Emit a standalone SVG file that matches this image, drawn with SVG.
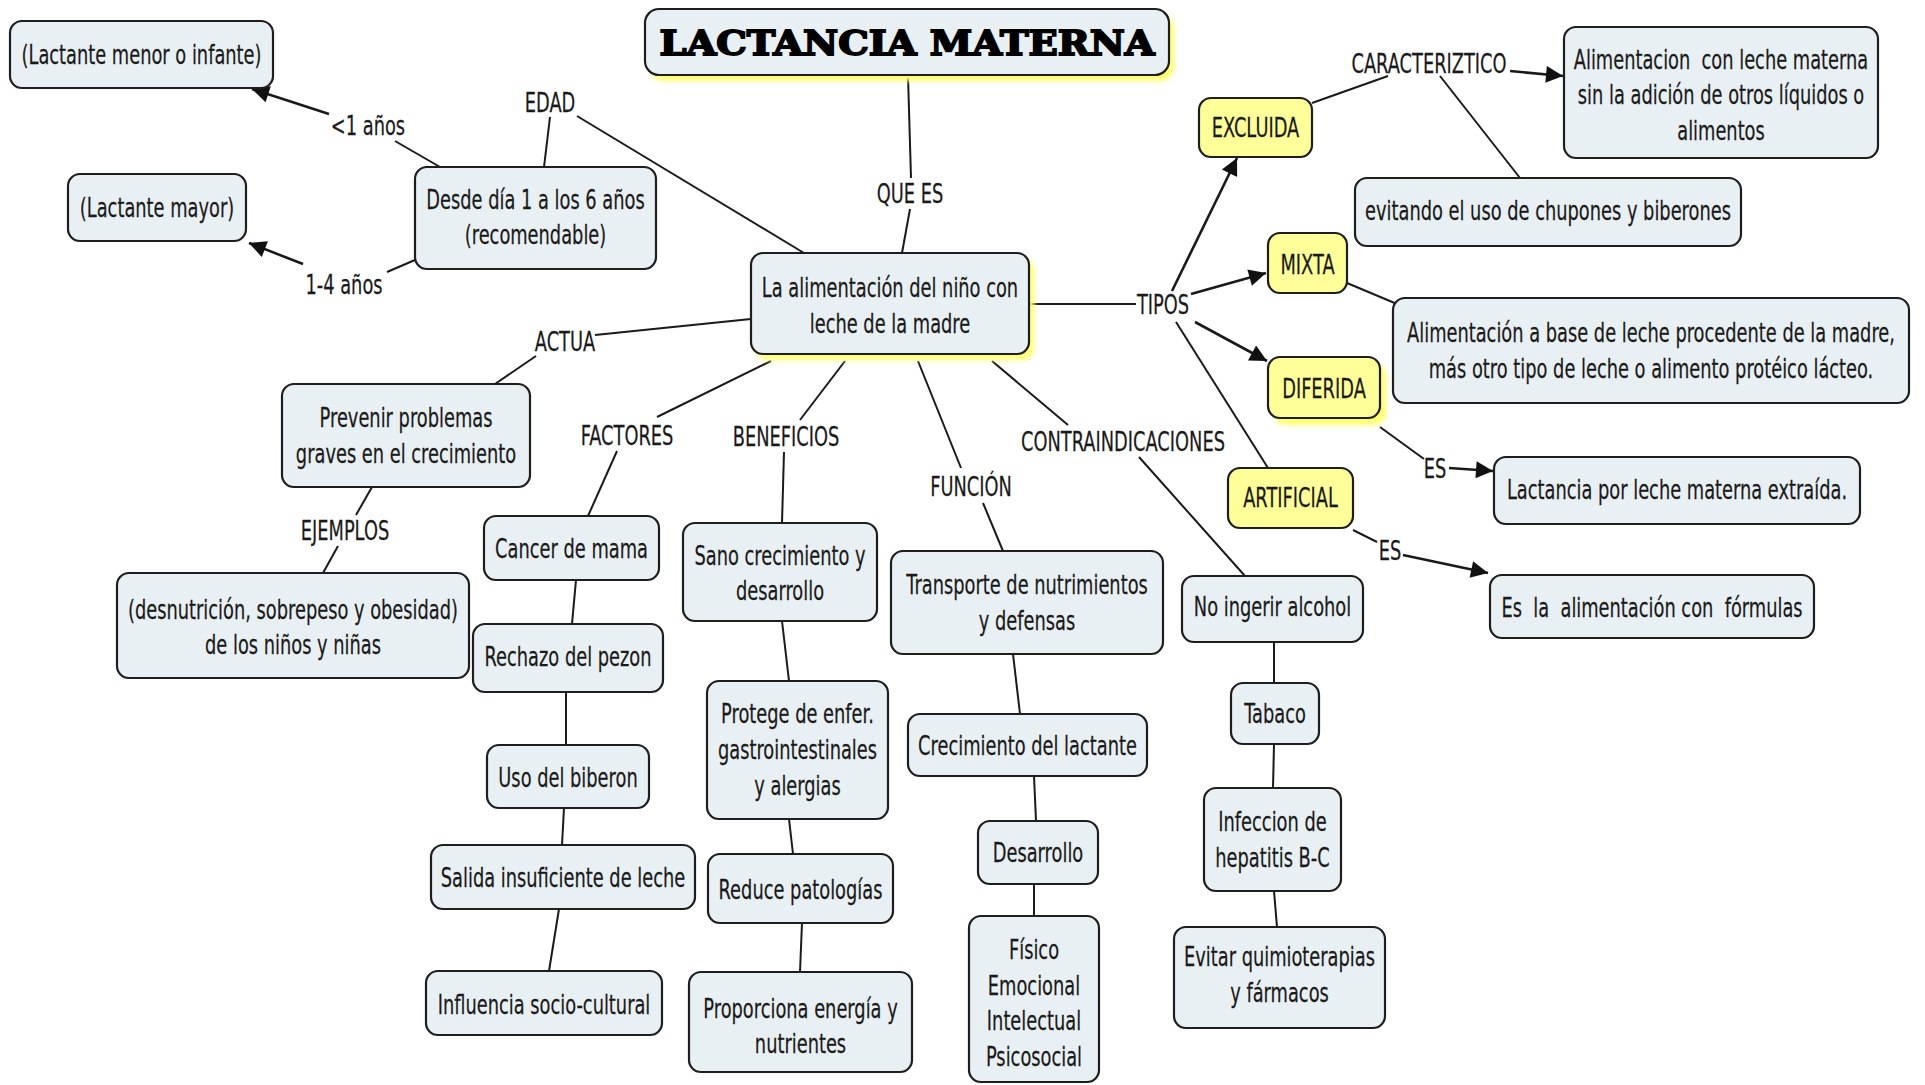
<svg xmlns="http://www.w3.org/2000/svg" width="1925" height="1085" viewBox="0 0 1925 1085">
<defs>
<style>
.node rect.b{fill:#e9f0f3;stroke:#1e1e1e;stroke-width:2.2}
.yel rect.b{fill:#ffff99}
.shadow{fill:#ffff70;filter:url(#blur)}
text{font-family:"DejaVu Sans","Verdana",sans-serif;font-size:27px;fill:#1a1a1a;text-anchor:middle;stroke:#1a1a1a;stroke-width:0.25}
.title{font-family:"DejaVu Serif","Liberation Serif",serif;font-weight:bold;font-size:34px;fill:#000;stroke:#000;stroke-width:1.8}
.conn line{stroke:#1a1a1a;stroke-width:2;fill:none}
.conn line.a{stroke-width:2.6;marker-end:url(#arr)}
</style>
<filter id="blur" x="-10%" y="-20%" width="130%" height="150%"><feGaussianBlur stdDeviation="2.5"/></filter>
<marker id="arr" viewBox="0 0 10 10" refX="10" refY="5" markerWidth="22" markerHeight="17" markerUnits="userSpaceOnUse" orient="auto"><path d="M0,0 L10,5 L0,10 z" fill="#111"/></marker>
</defs>
<rect width="1925" height="1085" fill="#ffffff"/>

<g id="connectors" class="conn">
<line x1="908" y1="76" x2="911" y2="178"/>
<line x1="910" y1="209" x2="902" y2="253"/>
<line x1="577" y1="116" x2="804" y2="253"/>
<line x1="550" y1="117" x2="544" y2="167"/>
<line x1="440" y1="167" x2="395" y2="141"/>
<line class="a" x1="329" y1="114" x2="252" y2="89"/>
<line x1="415" y1="260" x2="387" y2="272"/>
<line class="a" x1="303" y1="264" x2="249" y2="243"/>
<line x1="751" y1="319" x2="595" y2="335"/>
<line x1="536" y1="356" x2="495" y2="384"/>
<line x1="372" y1="487" x2="356" y2="515"/>
<line x1="338" y1="546" x2="323" y2="573"/>
<line x1="771" y1="361" x2="657" y2="417"/>
<line x1="617" y1="451" x2="588" y2="516"/>
<line x1="576" y1="580" x2="572" y2="624"/>
<line x1="566" y1="692" x2="566" y2="745"/>
<line x1="564" y1="808" x2="562" y2="845"/>
<line x1="559" y1="909" x2="549" y2="971"/>
<line x1="845" y1="361" x2="800" y2="420"/>
<line x1="784" y1="452" x2="782" y2="523"/>
<line x1="782" y1="621" x2="789" y2="681"/>
<line x1="789" y1="819" x2="793" y2="854"/>
<line x1="802" y1="923" x2="800" y2="972"/>
<line x1="918" y1="361" x2="961" y2="468"/>
<line x1="983" y1="503" x2="1003" y2="551"/>
<line x1="1013" y1="654" x2="1020" y2="714"/>
<line x1="1034" y1="776" x2="1036" y2="821"/>
<line x1="1034" y1="884" x2="1034" y2="916"/>
<line x1="992" y1="361" x2="1068" y2="425"/>
<line x1="1139" y1="457" x2="1245" y2="576"/>
<line x1="1274" y1="642" x2="1274" y2="683"/>
<line x1="1274" y1="744" x2="1273" y2="788"/>
<line x1="1274" y1="891" x2="1277" y2="927"/>
<line x1="1029" y1="304" x2="1136" y2="304"/>
<line class="a" x1="1172" y1="291" x2="1237" y2="158"/>
<line class="a" x1="1191" y1="294" x2="1266" y2="273"/>
<line class="a" x1="1195" y1="322" x2="1267" y2="361"/>
<line x1="1176" y1="322" x2="1268" y2="468"/>
<line x1="1312" y1="103" x2="1388" y2="76"/>
<line class="a" x1="1510" y1="71" x2="1563" y2="76"/>
<line x1="1440" y1="76" x2="1520" y2="178"/>
<line x1="1347" y1="283" x2="1397" y2="304"/>
<line x1="1380" y1="427" x2="1424" y2="459"/>
<line class="a" x1="1449" y1="468" x2="1493" y2="471"/>
<line x1="1353" y1="530" x2="1377" y2="542"/>
<line class="a" x1="1403" y1="555" x2="1488" y2="573"/>
</g>

<g id="labels">
<text transform="translate(550 0) scale(0.66 1)" x="0" y="112">EDAD</text>
<text transform="translate(368 0) scale(0.66 1)" x="0" y="135">&lt;1 años</text>
<text transform="translate(344 0) scale(0.66 1)" x="0" y="294">1-4 años</text>
<text transform="translate(910 0) scale(0.66 1)" x="0" y="203">QUE ES</text>
<text transform="translate(565 0) scale(0.66 1)" x="0" y="351">ACTUA</text>
<text transform="translate(345 0) scale(0.66 1)" x="0" y="540">EJEMPLOS</text>
<text transform="translate(627 0) scale(0.66 1)" x="0" y="445">FACTORES</text>
<text transform="translate(786 0) scale(0.66 1)" x="0" y="446">BENEFICIOS</text>
<text transform="translate(971 0) scale(0.66 1)" x="0" y="496">FUNCIÓN</text>
<text transform="translate(1123 0) scale(0.66 1)" x="0" y="451">CONTRAINDICACIONES</text>
<text transform="translate(1163 0) scale(0.66 1)" x="0" y="314">TIPOS</text>
<text transform="translate(1429 0) scale(0.66 1)" x="0" y="73">CARACTERIZTICO</text>
<text transform="translate(1435 0) scale(0.66 1)" x="0" y="478">ES</text>
<text transform="translate(1390 0) scale(0.66 1)" x="0" y="560">ES</text>
</g>

<g id="n-title" class="node">
<rect class="shadow" x="650" y="15" width="524" height="66" rx="14"/>
<rect class="b" x="645" y="9" width="524" height="66" rx="14"/>
<text class="title" x="907" y="55" textLength="495" lengthAdjust="spacingAndGlyphs">LACTANCIA MATERNA</text>
</g>
<g id="n-menor" class="node"><rect class="b" x="10" y="21" width="263" height="67" rx="12"/>
<text transform="translate(141.5 0) scale(0.66 1)" x="0" y="64">(Lactante menor o infante)</text></g>
<g id="n-mayor" class="node"><rect class="b" x="68" y="174" width="178" height="67" rx="12"/>
<text transform="translate(157 0) scale(0.66 1)" x="0" y="217">(Lactante mayor)</text></g>
<g id="n-desde" class="node"><rect class="b" x="415" y="167" width="241" height="102" rx="12"/>
<text transform="translate(535.5 0) scale(0.66 1)"><tspan x="0" y="209">Desde día 1 a los 6 años</tspan><tspan x="0" y="244.5">(recomendable)</tspan></text></g>
<g id="n-main" class="node">
<rect class="shadow" x="756" y="259" width="278" height="101" rx="12"/>
<rect class="b" x="751" y="253" width="278" height="101" rx="12"/>
<text transform="translate(890 0) scale(0.66 1)"><tspan x="0" y="297">La alimentación del niño con</tspan><tspan x="0" y="333">leche de la madre</tspan></text></g>
<g id="n-prevenir" class="node"><rect class="b" x="282" y="384" width="248" height="103" rx="12"/>
<text transform="translate(406 0) scale(0.66 1)"><tspan x="0" y="427">Prevenir problemas</tspan><tspan x="0" y="463">graves en el crecimiento</tspan></text></g>
<g id="n-desnut" class="node"><rect class="b" x="117" y="573" width="352" height="105" rx="12"/>
<text transform="translate(293 0) scale(0.66 1)"><tspan x="0" y="619">(desnutrición, sobrepeso y obesidad)</tspan><tspan x="0" y="654.5">de los niños y niñas</tspan></text></g>
<g id="n-cancer" class="node"><rect class="b" x="484" y="516" width="175" height="64" rx="12"/>
<text transform="translate(571.5 0) scale(0.66 1)" x="0" y="558">Cancer de mama</text></g>
<g id="n-rechazo" class="node"><rect class="b" x="473" y="624" width="190" height="68" rx="12"/>
<text transform="translate(568 0) scale(0.66 1)" x="0" y="666">Rechazo del pezon</text></g>
<g id="n-uso" class="node"><rect class="b" x="487" y="745" width="162" height="63" rx="12"/>
<text transform="translate(568 0) scale(0.66 1)" x="0" y="787">Uso del biberon</text></g>
<g id="n-salida" class="node"><rect class="b" x="431" y="845" width="264" height="64" rx="12"/>
<text transform="translate(563 0) scale(0.66 1)" x="0" y="887">Salida insuficiente de leche</text></g>
<g id="n-influencia" class="node"><rect class="b" x="426" y="971" width="236" height="64" rx="12"/>
<text transform="translate(544 0) scale(0.66 1)" x="0" y="1014">Influencia socio-cultural</text></g>
<g id="n-sano" class="node"><rect class="b" x="683" y="523" width="194" height="98" rx="12"/>
<text transform="translate(780 0) scale(0.66 1)"><tspan x="0" y="565">Sano crecimiento y</tspan><tspan x="0" y="600.5">desarrollo</tspan></text></g>
<g id="n-protege" class="node"><rect class="b" x="707" y="681" width="181" height="138" rx="12"/>
<text transform="translate(797.5 0) scale(0.66 1)"><tspan x="0" y="723">Protege de enfer.</tspan><tspan x="0" y="759">gastrointestinales</tspan><tspan x="0" y="795.5">y alergias</tspan></text></g>
<g id="n-reduce" class="node"><rect class="b" x="708" y="854" width="185" height="69" rx="12"/>
<text transform="translate(800.5 0) scale(0.66 1)" x="0" y="899">Reduce patologías</text></g>
<g id="n-proporciona" class="node"><rect class="b" x="689" y="972" width="223" height="100" rx="12"/>
<text transform="translate(800.5 0) scale(0.66 1)"><tspan x="0" y="1018">Proporciona energía y</tspan><tspan x="0" y="1053.5">nutrientes</tspan></text></g>
<g id="n-transporte" class="node"><rect class="b" x="891" y="551" width="272" height="103" rx="12"/>
<text transform="translate(1027 0) scale(0.66 1)"><tspan x="0" y="594">Transporte de nutrimientos</tspan><tspan x="0" y="630">y defensas</tspan></text></g>
<g id="n-crecimiento" class="node"><rect class="b" x="908" y="714" width="239" height="62" rx="12"/>
<text transform="translate(1027.5 0) scale(0.66 1)" x="0" y="755">Crecimiento del lactante</text></g>
<g id="n-desarrollo" class="node"><rect class="b" x="978" y="821" width="120" height="63" rx="12"/>
<text transform="translate(1038 0) scale(0.66 1)" x="0" y="862">Desarrollo</text></g>
<g id="n-fisico" class="node"><rect class="b" x="969" y="916" width="130" height="166" rx="12"/>
<text transform="translate(1034 0) scale(0.66 1)"><tspan x="0" y="959">Físico</tspan><tspan x="0" y="995">Emocional</tspan><tspan x="0" y="1030">Intelectual</tspan><tspan x="0" y="1066">Psicosocial</tspan></text></g>
<g id="n-alcohol" class="node"><rect class="b" x="1182" y="576" width="181" height="66" rx="12"/>
<text transform="translate(1272.5 0) scale(0.66 1)" x="0" y="616">No ingerir alcohol</text></g>
<g id="n-tabaco" class="node"><rect class="b" x="1231" y="683" width="88" height="61" rx="12"/>
<text transform="translate(1275 0) scale(0.66 1)" x="0" y="723">Tabaco</text></g>
<g id="n-infeccion" class="node"><rect class="b" x="1204" y="788" width="137" height="103" rx="12"/>
<text transform="translate(1272.5 0) scale(0.66 1)"><tspan x="0" y="831">Infeccion de</tspan><tspan x="0" y="867">hepatitis B-C</tspan></text></g>
<g id="n-evitar" class="node"><rect class="b" x="1174" y="927" width="211" height="101" rx="12"/>
<text transform="translate(1279.5 0) scale(0.66 1)"><tspan x="0" y="966">Evitar quimioterapias</tspan><tspan x="0" y="1002">y fármacos</tspan></text></g>
<g id="n-excluida" class="node yel"><rect class="b" x="1199" y="98" width="113" height="59" rx="12"/>
<text transform="translate(1255.5 0) scale(0.66 1)" x="0" y="137">EXCLUIDA</text></g>
<g id="n-mixta" class="node yel"><rect class="b" x="1268" y="233" width="79" height="60" rx="12"/>
<text transform="translate(1307.5 0) scale(0.66 1)" x="0" y="274">MIXTA</text></g>
<g id="n-diferida" class="node yel">
<rect class="shadow" x="1274" y="364" width="112" height="61" rx="12"/>
<rect class="b" x="1268" y="357" width="112" height="61" rx="12"/>
<text transform="translate(1324 0) scale(0.66 1)" x="0" y="398">DIFERIDA</text></g>
<g id="n-artificial" class="node yel"><rect class="b" x="1228" y="468" width="125" height="60" rx="12"/>
<text transform="translate(1290.5 0) scale(0.66 1)" x="0" y="507">ARTIFICIAL</text></g>
<g id="n-exclusiva-desc" class="node"><rect class="b" x="1564" y="27" width="314" height="131" rx="12"/>
<text transform="translate(1721 0) scale(0.66 1)" xml:space="preserve"><tspan x="0" y="69">Alimentacion  con leche materna</tspan><tspan x="0" y="104.5">sin la adición de otros líquidos o</tspan><tspan x="0" y="140">alimentos</tspan></text></g>
<g id="n-evitando" class="node"><rect class="b" x="1355" y="178" width="386" height="68" rx="12"/>
<text transform="translate(1548 0) scale(0.66 1)" x="0" y="220">evitando el uso de chupones y biberones</text></g>
<g id="n-mixta-desc" class="node"><rect class="b" x="1393" y="298" width="516" height="105" rx="12"/>
<text transform="translate(1651 0) scale(0.66 1)"><tspan x="0" y="342.5">Alimentación a base de leche procedente de la madre,</tspan><tspan x="0" y="378">más otro tipo de leche o alimento protéico lácteo.</tspan></text></g>
<g id="n-extraida" class="node"><rect class="b" x="1494" y="457" width="366" height="67" rx="12"/>
<text transform="translate(1677 0) scale(0.66 1)" x="0" y="499">Lactancia por leche materna extraída.</text></g>
<g id="n-formulas" class="node"><rect class="b" x="1490" y="575" width="324" height="63" rx="12"/>
<text transform="translate(1652 0) scale(0.66 1)" x="0" y="617" xml:space="preserve">Es  la  alimentación con  fórmulas</text></g>
</svg>
